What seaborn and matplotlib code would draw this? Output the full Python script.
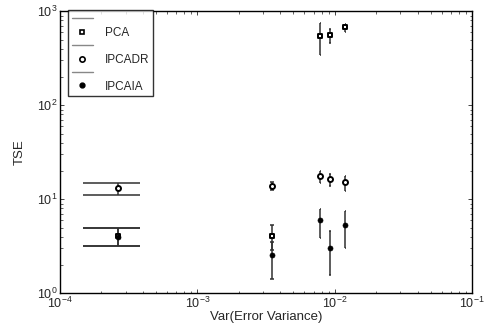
import numpy as np
import pandas as pd
import matplotlib
matplotlib.use("Agg")
import matplotlib.pyplot as plt
from matplotlib.lines import Line2D
import seaborn as sns

# ---- data ----
x_vals = [2.64e-4, 3.47e-3, 7.85e-3, 9.25e-3, 1.195e-2]

pca = [4.1, 4.07, 546, 560, 681]
pca_lo = [3.2, 2.87, 340, 460, 607]
pca_hi = [5.0, 5.33, 745, 655, 740]

ipcadr = [13.1, 13.9, 17.7, 16.3, 15.1]
ipcadr_lo = [11.2, 12.5, 14.8, 13.9, 12.3]
ipcadr_hi = [14.8, 15.4, 20.0, 18.8, 17.7]

ipcaia = [4.0, 2.58, 5.98, 3.03, 5.33]
ipcaia_lo = [3.15, 1.43, 3.85, 1.55, 3.06]
ipcaia_hi = [5.0, 3.5, 7.95, 4.6, 7.5]

series_names = ["PCA", "IPCADR", "IPCAIA"]

sns.set_style("ticks")
plt.rcParams["font.family"] = ["Liberation Sans", "DejaVu Sans"]

fig = plt.figure(figsize=(4.91, 3.31), dpi=100)
ax = fig.add_axes([60/491, 1-293.3/331, (472.3-60)/491, (293.3-11.3)/331])

x = np.array(x_vals)
capw = (x.max() - x.min()) / 100.0

series = [
    (pca, pca_lo, pca_hi),
    (ipcadr, ipcadr_lo, ipcadr_hi),
    (ipcaia, ipcaia_lo, ipcaia_hi),
]
err_color = "#303030"
for vals, lo, hi in series:
    lo = np.array(lo); hi = np.array(hi)
    ax.vlines(x, lo, hi, color=err_color, lw=1.1, zorder=2)
    ax.hlines(lo, x - capw, x + capw, color=err_color, lw=1.1, zorder=2)
    ax.hlines(hi, x - capw, x + capw, color=err_color, lw=1.1, zorder=2)

df_pca = pd.DataFrame({"x": x_vals, "y": pca})
df_dr = pd.DataFrame({"x": x_vals, "y": ipcadr})
df_ia = pd.DataFrame({"x": x_vals, "y": ipcaia})
sns.scatterplot(data=df_pca, x="x", y="y", marker="s", s=11, facecolor="white",
                edgecolor="black", linewidth=1.4, ax=ax, zorder=3)
sns.scatterplot(data=df_dr, x="x", y="y", marker="o", s=13, facecolor="white",
                edgecolor="black", linewidth=1.4, ax=ax, zorder=3)
sns.scatterplot(data=df_ia, x="x", y="y", marker="o", s=13, facecolor="black",
                edgecolor="black", linewidth=0.5, ax=ax, zorder=4)

ax.set_xscale("log")
ax.set_yscale("log")
ax.set_xlim(1e-4, 1e-1)
ax.set_ylim(1, 1e3)
ax.set_xlabel("Var(Error Variance)", fontsize=9.5, labelpad=0)
ax.set_ylabel("TSE", fontsize=9.5, labelpad=8)
ax.tick_params(which="both", direction="in", top=True, right=True, labelsize=9, pad=2)
ax.tick_params(which="major", length=3, width=0.6)
ax.tick_params(which="minor", length=1.8, width=0.5)
for sp in ax.spines.values():
    sp.set_linewidth(1.0)
    sp.set_color("black")

handles = [
    Line2D([], [], color="#888888", lw=1.0),
    Line2D([], [], ls="none", marker="s", ms=3.5, mfc="white", mec="black", mew=1.2),
    Line2D([], [], color="#888888", lw=1.0),
    Line2D([], [], ls="none", marker="o", ms=3.8, mfc="white", mec="black", mew=1.2),
    Line2D([], [], color="#888888", lw=1.0),
    Line2D([], [], ls="none", marker="o", ms=3.5, mfc="black", mec="black"),
]
labels = ["", series_names[0], "", series_names[1], "", series_names[2]]
leg = ax.legend(handles, labels, loc="upper left", bbox_to_anchor=(0.02, 1.005),
                fontsize=8.5, frameon=True, fancybox=False, handlelength=1.8,
                labelspacing=0.12, borderpad=0.3, handletextpad=1.0, borderaxespad=0)
leg.get_frame().set_edgecolor("black")
leg.get_frame().set_linewidth(1.0)

fig.savefig("out.png", dpi=100)
